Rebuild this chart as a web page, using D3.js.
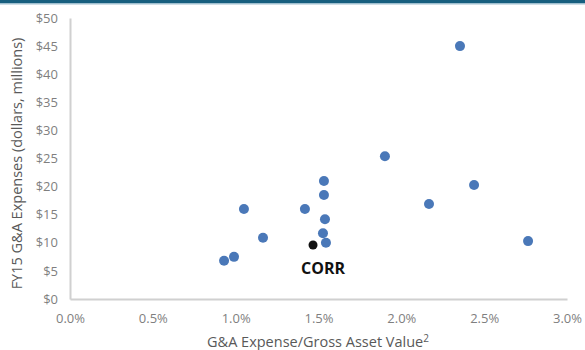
<!DOCTYPE html>
<html>
<head>
<meta charset="utf-8">
<script src="https://cdn.jsdelivr.net/npm/d3@7"></script>
<style>
  body { margin: 0; background: #fff; }
  svg { display: block; font-family: "Open Sans", "Liberation Sans", sans-serif; }
</style>
</head>
<body>
<svg></svg>
<script>
// G&A expense / gross asset value (%) vs FY15 G&A expenses ($M)
const peerRatio = [2.354, 1.901, 2.439, 2.167, 2.765, 1.533, 1.533, 1.418, 1.539, 1.527, 1.545, 1.050, 1.165, 0.990, 0.930];
const peerExpense = [45.0, 25.4, 20.3, 16.9, 10.3, 21.0, 18.5, 16.0, 14.2, 11.7, 10.0, 16.0, 10.9, 7.5, 6.8];
const corr = { name: "CORR", ratio: 1.467, expense: 9.6 };
const xTicks = [0, 0.5, 1.0, 1.5, 2.0, 2.5, 3.0];
const yTicks = [0, 5, 10, 15, 20, 25, 30, 35, 40, 45, 50];

const W = 585, H = 350;
const svg = d3.select("svg").attr("width", W).attr("height", H);

// top banner
svg.append("rect").attr("x", 0).attr("y", 0).attr("width", W).attr("height", 3).attr("fill", "#175f7f");
svg.append("rect").attr("x", 0).attr("y", 3).attr("width", W).attr("height", 1.5).attr("fill", "#9fbfcf");

const x = d3.scaleLinear().domain([0, 3]).range([70, 567]);
const y = d3.scaleLinear().domain([0, 50]).range([299, 18]);

// axes
const xAxis = svg.append("g")
  .attr("transform", `translate(0, ${y(0)})`)
  .call(d3.axisBottom(x).tickValues(xTicks).tickFormat(d => d.toFixed(1) + "%").tickSize(0).tickPadding(15));
const yAxis = svg.append("g")
  .attr("transform", `translate(${x(0)}, 0)`)
  .call(d3.axisLeft(y).tickValues(yTicks).tickFormat(d => "$" + d).tickSize(0).tickPadding(12));

[xAxis, yAxis].forEach(g => {
  g.select(".domain").attr("stroke", "#d0d0d0").attr("stroke-width", 2);
  g.selectAll("text").attr("fill", "#7f7f7f").attr("font-size", 13).attr("font-family", "Open Sans, Liberation Sans, sans-serif");
});

// points
const peers = peerRatio.map((r, i) => ({ r, e: peerExpense[i] }));
svg.append("g").selectAll("circle").data(peers).join("circle")
  .attr("cx", d => x(d.r))
  .attr("cy", d => y(d.e))
  .attr("r", 5)
  .attr("fill", "#4a78b8");

svg.append("circle")
  .attr("cx", x(corr.ratio)).attr("cy", y(corr.expense))
  .attr("r", 4.5).attr("fill", "#111");

svg.append("text")
  .attr("x", x(corr.ratio) + 10).attr("y", y(corr.expense) + 29)
  .attr("text-anchor", "middle")
  .attr("font-size", 16).attr("font-weight", "bold").attr("fill", "#111")
  .text(corr.name);

// axis titles
svg.append("text")
  .attr("transform", `translate(22, ${(y(0) + y(50)) / 2 + 5}) rotate(-90)`)
  .attr("text-anchor", "middle")
  .attr("font-size", 14.5).attr("fill", "#595959")
  .text("FY15 G&A Expenses (dollars, millions)");

const xt = svg.append("text")
  .attr("x", 318).attr("y", 347)
  .attr("text-anchor", "middle")
  .attr("font-size", 14.5).attr("fill", "#595959");
xt.append("tspan").text("G&A Expense/Gross Asset Value");
xt.append("tspan").attr("dy", -5).attr("font-size", 10).text("2");
</script>
</body>
</html>
